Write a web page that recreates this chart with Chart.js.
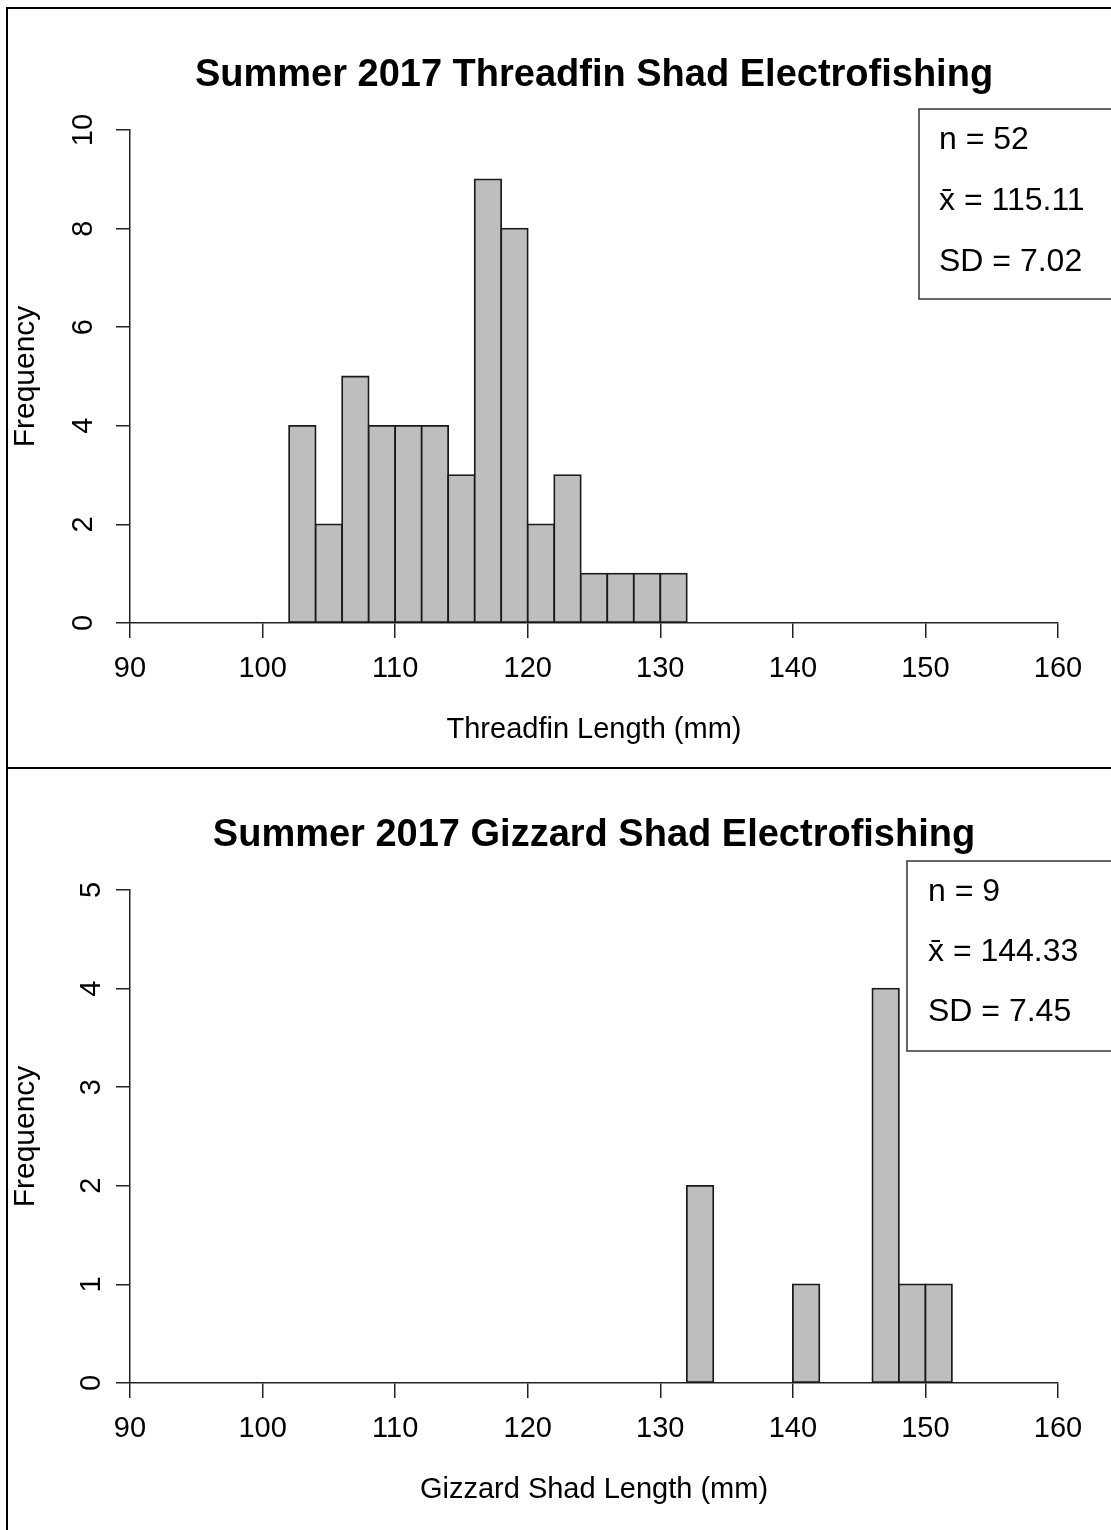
<!DOCTYPE html>
<html>
<head>
<meta charset="utf-8">
<script src="https://cdn.jsdelivr.net/npm/chart.js@4.4.1/dist/chart.umd.min.js"></script>
<style>
  html, body { margin: 0; padding: 0; background: #fff; }
  body { width: 1111px; height: 1530px; overflow: hidden; position: relative; }
  canvas { position: absolute; left: 0; }
  #threadfin { top: 0; }
  #gizzard { top: 760px; }
  .rule { position: absolute; background: #000; z-index: 2; }
</style>
</head>
<body>
<canvas id="threadfin" width="1188" height="770"></canvas>
<canvas id="gizzard" width="1188" height="770"></canvas>
<div class="rule" style="left:6px;top:7px;width:1105px;height:2px"></div>
<div class="rule" style="left:6px;top:7px;width:2px;height:1523px"></div>
<div class="rule" style="left:6px;top:767px;width:1105px;height:2px"></div>
<script>
// Length bins are 2 mm wide; values are bin centres (mm)
const threadfinBins   = [103, 105, 107, 109, 111, 113, 115, 117, 119, 121, 123, 125, 127, 129, 131];
const threadfinCounts = [4, 2, 5, 4, 4, 4, 3, 9, 8, 2, 3, 1, 1, 1, 1];
const gizzardBins     = [133, 135, 137, 139, 141, 143, 145, 147, 149, 151];
const gizzardCounts   = [2, 0, 0, 0, 1, 0, 0, 4, 1, 1];

const threadfinStats = ['n = 52', 'x\u0304 = 115.11', 'SD = 7.02'];
const gizzardStats   = ['n = 9', 'x\u0304 = 144.33', 'SD = 7.45'];

const threadfinTitle = 'Summer 2017 Threadfin Shad Electrofishing';
const gizzardTitle   = 'Summer 2017 Gizzard Shad Electrofishing';
const threadfinAxis  = 'Threadfin Length (mm)';
const gizzardAxis    = 'Gizzard Shad Length (mm)';
const freqAxis       = 'Frequency';

const FONT = '"Liberation Sans", Arial, sans-serif';
const INK = '#222';

// Summary-statistics box in the upper right of each panel
const statsBox = {
  id: 'statsBox',
  afterDraw(chart, args, o) {
    const ctx = chart.ctx;
    ctx.save();
    ctx.fillStyle = '#fff';
    ctx.fillRect(o.left, o.top, o.width, o.height);
    ctx.strokeStyle = '#333';
    ctx.lineWidth = 1.5;
    ctx.strokeRect(o.left, o.top, o.width, o.height);
    ctx.fillStyle = '#000';
    ctx.font = '32px ' + FONT;
    ctx.textBaseline = 'middle';
    ctx.textAlign = 'left';
    o.lines.forEach((t, i) => ctx.fillText(t, o.left + o.padX, o.top + o.firstLine + i * o.lineGap));
    ctx.restore();
  }
};

function histogram(id, title, xTitle, bins, counts, yMax, yStep, stats, box) {
  const points = bins.map((b, i) => ({ x: b, y: counts[i] === 0 ? null : counts[i] }));
  return new Chart(document.getElementById(id), {
    type: 'bar',
    data: {
      datasets: [{
        data: points,
        backgroundColor: '#BEBEBE',
        borderColor: '#1a1a1a',
        borderWidth: 1.8,
        inflateAmount: 0.9,
        borderSkipped: false,
        barPercentage: 1,
        categoryPercentage: 1
      }]
    },
    options: {
      responsive: false,
      animation: false,
      devicePixelRatio: 1,
      layout: { padding: { left: 6, right: 130, top: 0, bottom: 0 } },
      plugins: {
        legend: { display: false },
        tooltip: { enabled: false },
        title: {
          display: true,
          fullSize: false,
          text: title,
          color: '#000',
          font: { family: FONT, size: 38, weight: 'bold' },
          padding: { top: 53, bottom: 31.4 }
        },
        statsBox: Object.assign({ lines: stats }, box)
      },
      scales: {
        x: {
          type: 'linear',
          min: 90,
          max: 160,
          offset: false,
          ticks: { stepSize: 10, color: '#000', font: { family: FONT, size: 29 }, padding: 14, maxRotation: 0 },
          grid: { offset: false, drawOnChartArea: false, drawTicks: true, tickLength: 15, color: INK, lineWidth: 1.5 },
          border: { display: true, color: INK, width: 1.5 },
          title: { display: true, text: xTitle, color: '#000', font: { family: FONT, size: 29 }, padding: { top: 0, bottom: 22.6 } },
          afterFit(s) { s.height = 147; }
        },
        y: {
          min: 0,
          max: yMax,
          ticks: { stepSize: yStep, color: '#000', font: { family: FONT, size: 29 }, minRotation: 90, maxRotation: 90, crossAlign: 'center', padding: 16 },
          grid: { drawOnChartArea: false, drawTicks: true, tickLength: 14, color: INK, lineWidth: 1.5 },
          border: { display: true, color: INK, width: 1.5 },
          title: { display: true, text: freqAxis, color: '#000', font: { family: FONT, size: 30 }, padding: { top: 2, bottom: 0 } },
          afterFit(s) { s.width = 124; }
        }
      }
    },
    plugins: [statsBox]
  });
}

histogram('threadfin', threadfinTitle, threadfinAxis, threadfinBins, threadfinCounts, 10, 2, threadfinStats,
  { left: 919, top: 109, width: 220, height: 190, padX: 20, firstLine: 31, lineGap: 61 });
histogram('gizzard', gizzardTitle, gizzardAxis, gizzardBins, gizzardCounts, 5, 1, gizzardStats,
  { left: 907, top: 101, width: 230, height: 190, padX: 21, firstLine: 31, lineGap: 60 });
</script>
</body>
</html>
